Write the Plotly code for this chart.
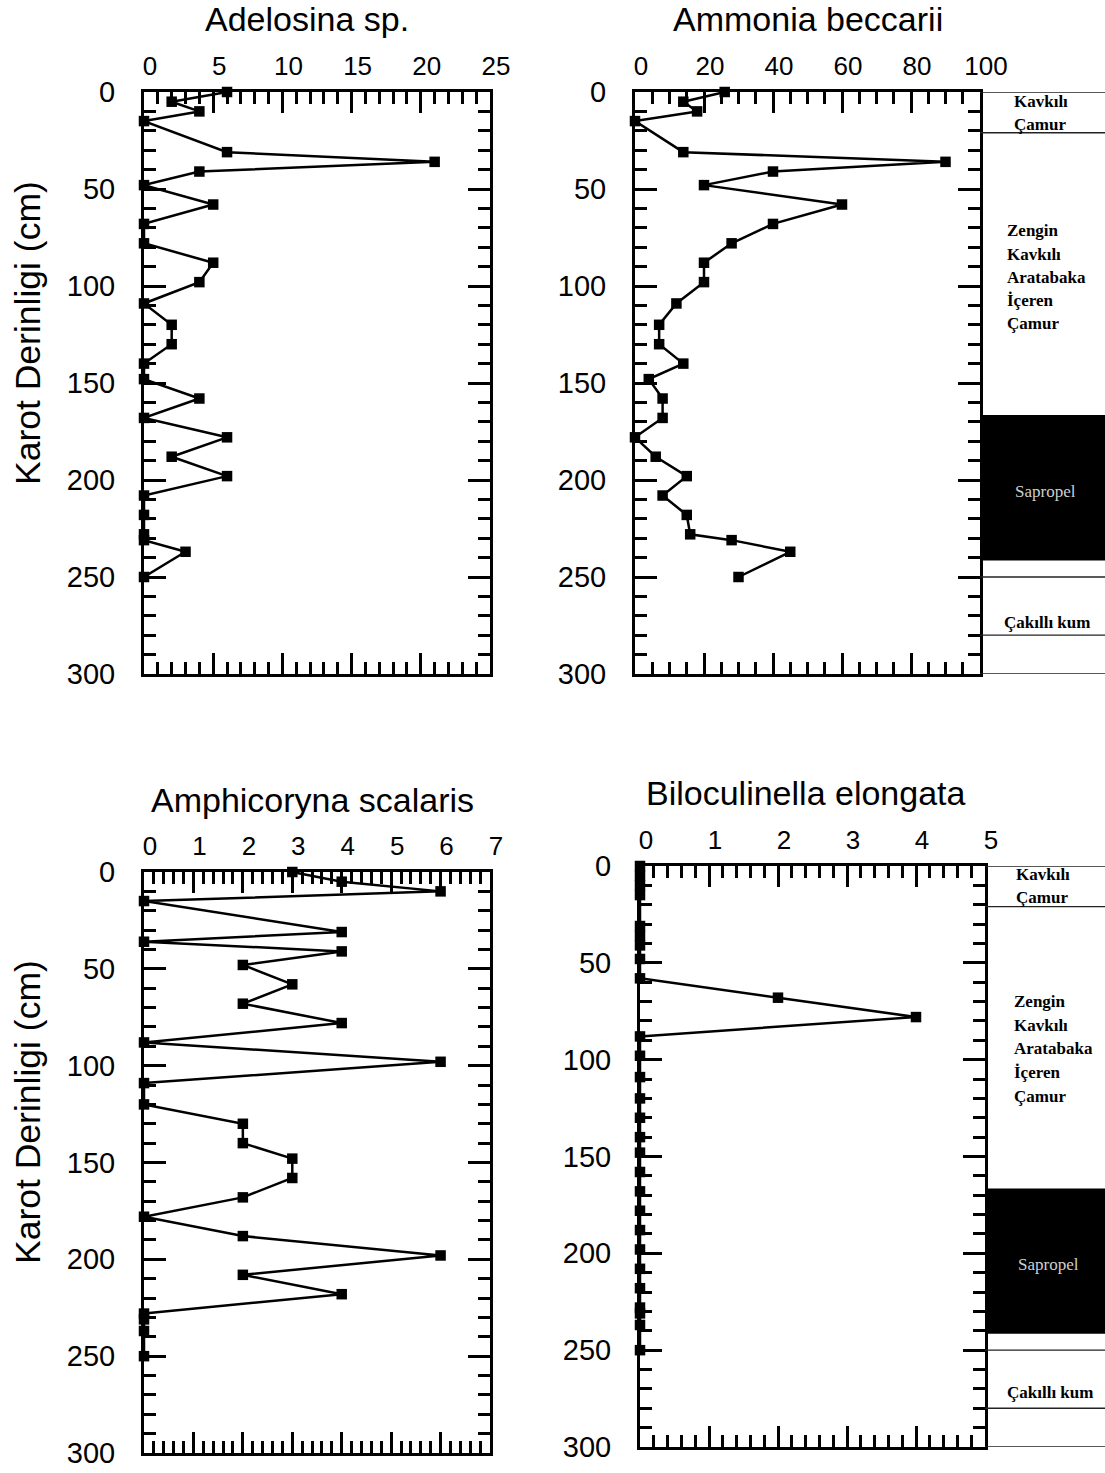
import plotly.graph_objects as go

W, H = 1105, 1473

# ---------------- data ----------------
depths = [0, 5, 10, 15, 31, 36, 41, 48, 58, 68, 78, 88, 98, 109, 120, 130, 140,
          148, 158, 168, 178, 188, 198, 208, 218, 228, 231, 237, 250]
adelosina = [6, 2, 4, 0, 6, 21, 4, 0, 5, 0, 0, 5, 4, 0, 2, 2, 0,
             0, 4, 0, 6, 2, 6, 0, 0, 0, 0, 3, 0]
ammonia = [26, 14, 18, 0, 14, 90, 40, 20, 60, 40, 28, 20, 20, 12, 7, 7, 14,
           4, 8, 8, 0, 6, 15, 8, 15, 16, 28, 45, 30]
amphicoryna = [3, 4, 6, 0, 4, 0, 4, 2, 3, 2, 4, 0, 6, 0, 0, 2, 2,
               3, 3, 2, 0, 2, 6, 2, 4, 0, 0, 0, 0]
biloculinella = [0, 0, 0, 0, 0, 0, 0, 0, 0, 2, 4, 0, 0, 0, 0, 0, 0,
                 0, 0, 0, 0, 0, 0, 0, 0, 0, 0, 0, 0]

species = ["Adelosina sp.", "Ammonia beccarii", "Amphicoryna scalaris", "Biloculinella elongata"]
x_ranges = [[0, 25], [0, 100], [0, 7], [0, 5]]
x_major = [5, 20, 1, 1]
x_minor = [1, 5, 0.2, 0.2]
y_title = "Karot Derinligi (cm)"

# lithology (depth in cm)
litho_lines = [0, 21, 250, 280, 300]
sapropel_top, sapropel_bottom = 166.5, 241.5
unit_shell = ["Kavkılı", "Çamur"]
unit_rich = ["Zengin", "Kavkılı", "Aratabaka", "İçeren", "Çamur"]
unit_sapropel = "Sapropel"
unit_gravel = "Çakıllı kum"

# ---------------- layout helpers (pixels -> paper) ----------------
def dx(a, b):
    return [a / W, b / W]

def dy(top, bottom):
    return [1 - bottom / H, 1 - top / H]

def px(x):
    return x / W

def py(y):
    return 1 - y / H

panel_box = [  # (left, right, top, bottom) in px
    (144, 490, 92, 674),
    (635, 980, 92, 674),
    (144, 490, 872, 1453),
    (640, 985, 866, 1447),
]
litho_box = [
    (980, 1105, 92, 674),
    (985, 1105, 866, 1447),
]
series = [adelosina, ammonia, amphicoryna, biloculinella]

FONT = "Liberation Sans, Arial, sans-serif"
SERIF = "Liberation Serif, Times New Roman, serif"

fig = go.Figure()
layout = dict(
    width=W, height=H, margin=dict(l=0, r=0, t=0, b=0, pad=0, autoexpand=False),
    paper_bgcolor="white", plot_bgcolor="white", showlegend=False,
    font=dict(family=FONT, color="black"),
)

for i, (vals, box) in enumerate(zip(series, panel_box)):
    n = i + 1
    xa = "x" if n == 1 else f"x{n}"
    ya = "y" if n == 1 else f"y{n}"
    fig.add_trace(go.Scatter(
        x=vals, y=depths, mode="lines+markers",
        line=dict(color="black", width=2.5),
        marker=dict(symbol="square", size=10.5, color="black"),
        xaxis=xa, yaxis=ya, cliponaxis=False,
    ))
    l, r, t, b = box
    layout["xaxis" if n == 1 else f"xaxis{n}"] = dict(
        domain=dx(l, r), anchor=ya, side="top", range=x_ranges[i], automargin=False,
        dtick=x_major[i], tick0=0, ticks="inside", ticklen=21, tickwidth=3,
        tickcolor="black", showline=True, linewidth=3, linecolor="black",
        mirror="ticks", showgrid=False, zeroline=False,
        minor=dict(dtick=x_minor[i], tick0=0, ticks="inside", ticklen=12,
                   tickwidth=2.5, tickcolor="black", showgrid=False),
        tickfont=dict(size=26, family=FONT, color="black"),
        ticklabelstandoff=4, ticklabelshift=6,
    )
    layout["yaxis" if n == 1 else f"yaxis{n}"] = dict(
        domain=dy(t, b), anchor=xa, range=[300, 0], dtick=50, tick0=0, automargin=False,
        ticks="inside", ticklen=22, tickwidth=3, tickcolor="black",
        showline=True, linewidth=3, linecolor="black", mirror="ticks",
        showgrid=False, zeroline=False,
        minor=dict(dtick=10, tick0=0, ticks="inside", ticklen=12, tickwidth=2.5,
                   tickcolor="black", showgrid=False),
        tickfont=dict(size=29, family=FONT, color="black"),
        ticklabelstandoff=20,
    )

# lithology columns as hidden axes
for j, box in enumerate(litho_box):
    n = 5 + j
    l, r, t, b = box
    layout[f"xaxis{n}"] = dict(domain=dx(l, r), anchor=f"y{n}", range=[0, 1],
                               visible=False, automargin=False)
    layout[f"yaxis{n}"] = dict(domain=dy(t, b), anchor=f"x{n}", range=[300, 0],
                               visible=False, automargin=False)

fig.update_layout(**layout)

shapes = []
annotations = []
for j in range(2):
    n = 5 + j
    shapes.append(dict(type="rect", xref=f"x{n}", yref=f"y{n}", x0=0, x1=1,
                       y0=sapropel_top, y1=sapropel_bottom,
                       fillcolor="black", line=dict(width=0), layer="above"))
    for d in litho_lines:
        shapes.append(dict(type="line", xref=f"x{n}", yref=f"y{n}", x0=0, x1=1,
                           y0=d, y1=d, line=dict(color="#222222", width=1.3)))
fig.update_layout(shapes=shapes)

def ann(text, x, y, size=17, family=FONT, color="black", xanchor="center",
        yanchor="middle", angle=0, bold=False):
    t = f"<b>{text}</b>" if bold else text
    annotations.append(dict(text=t, x=px(x), y=py(y), xref="paper", yref="paper",
                            showarrow=False, xanchor=xanchor, yanchor=yanchor,
                            textangle=angle, borderpad=0,
                            font=dict(size=size, family=family, color=color)))

# titles
ann(species[0], 307, 19, size=34)
ann(species[1], 808, 19, size=34)
ann(species[2], 312, 800, size=34)
ann(species[3], 806, 793, size=34)
ann(y_title, 28, 333, size=35.5, angle=-90)
ann(y_title, 28, 1112, size=35.5, angle=-90)

# lithology labels (top and bottom)
litho_text_pos = [
    dict(shell_x=1013, shell_y=[102, 125], rich_x=1006, rich_y=[230, 254, 277, 300, 324],
         sap=(1045, 492), grav=(1047, 622)),
    dict(shell_x=1015, shell_y=[875, 898], rich_x=1013, rich_y=[1001, 1025, 1048, 1072, 1096],
         sap=(1048, 1264), grav=(1050, 1392)),
]
for p in litho_text_pos:
    for txt, yy in zip(unit_shell, p["shell_y"]):
        ann(txt, p["shell_x"], yy, family=SERIF, xanchor="left", bold=True)
    for txt, yy in zip(unit_rich, p["rich_y"]):
        ann(txt, p["rich_x"], yy, family=SERIF, xanchor="left", bold=True)
    ann(unit_sapropel, p["sap"][0], p["sap"][1], family=SERIF, color="#cfcfcf")
    ann(unit_gravel, p["grav"][0], p["grav"][1], family=SERIF, bold=True)

fig.update_layout(annotations=annotations)
fig.write_html("out.html")
